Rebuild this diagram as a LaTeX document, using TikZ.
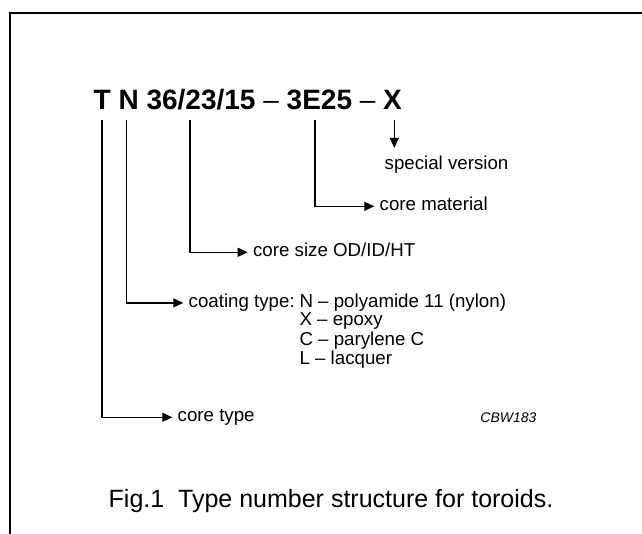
\documentclass[tikz,border=0pt]{standalone}
\usepackage{fontspec}
\setmainfont{Liberation Sans}
\usetikzlibrary{arrows.meta}

\begin{document}
\begin{tikzpicture}[x=0.5pt, y=-0.5pt]
\tikzstyle{lbl}=[anchor=base west, inner xsep=2.5pt, inner ysep=0pt, text height=6.4pt, text depth=2pt, font=\fontsize{9.35}{11}\selectfont]
\tikzstyle{arr}=[-{Triangle[length=5pt, width=4.5pt]}, line width=0.6pt]
\useasboundingbox (0,0) rectangle (642,534);
\draw[line width=1.1pt] (642,13) -| (10,534);

\node[anchor=base west, inner sep=0pt, font=\fontsize{14}{16}\selectfont\bfseries] (title) at (93.3,109.3) {T N 36/23/15 {\mdseries –} 3E25 {\mdseries –} X};
\coordinate (cT) at (102,120);
\coordinate (cN) at (126.7,120);
\coordinate (cS) at (190,120);
\coordinate (cM) at (315,120);
\coordinate (cX) at (394.3,120);

\node[lbl] (ver) at (379.3,170) {special version};
\node[lbl] (mat) at (374.3,210.7) {core material};
\node[lbl] (size) at (247.7,256.7) {core size OD/ID/HT};
\node[lbl] (coat) at (183.3,307.3) {coating type:};
\node[anchor=base west, inner sep=0pt, font=\fontsize{9.35}{9.3}\selectfont] (codes) at ([xshift=-0.5pt]coat.base east)
  {\begin{tabular}[t]{@{}l@{}}N – polyamide 11 (nylon)\\X – epoxy\\C – parylene C\\L – lacquer\end{tabular}};
\node[lbl] (ctype) at (172.3,421.7) {core type};
\node[anchor=base west, inner sep=0pt, font=\fontsize{7}{8}\selectfont\itshape] (code) at (480,422.7) {CBW183};
\node[anchor=base west, inner sep=0pt, font=\fontsize{12.5}{14}\selectfont] (caption) at (108.3,507.3) {Fig.1\ \ Type number structure for toroids.};

\draw[arr, shorten >=4.5pt] (cX) -- (cX |- ver.north);
\draw[arr] (cM) |- (mat.west);
\draw[arr] (cS) |- (size.west);
\draw[arr] (cN) |- (coat.west);
\draw[arr] (cT) |- (ctype.west);
\end{tikzpicture}
\end{document}
